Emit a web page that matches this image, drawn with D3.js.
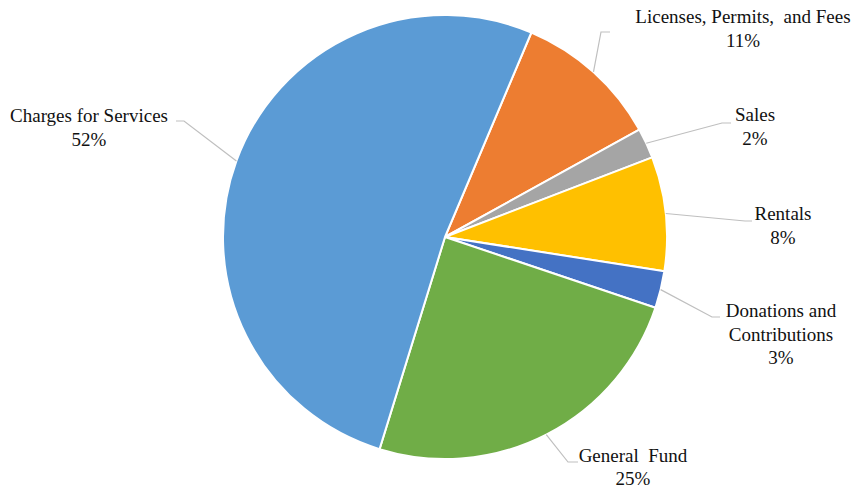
<!DOCTYPE html>
<html>
<head>
<meta charset="utf-8">
<script src="https://cdn.jsdelivr.net/npm/d3@7"></script>
<style>
  html, body { margin: 0; padding: 0; background: #fff; }
</style>
</head>
<body>
<svg id="chart" width="857" height="488"></svg>
<script>
// Revenue sources, clockwise from the first slice
const categories = ["Licenses, Permits,  and Fees", "Sales", "Rentals", "Donations and Contributions", "General  Fund", "Charges for Services"];
const shares = [10.6, 2.2, 8.3, 2.7, 24.6, 51.6];
const colors = ["#ED7D31", "#A5A5A5", "#FFC000", "#4472C4", "#70AD47", "#5B9BD5"];

// Label text lines per slice (the percentage line is added from the value)
const labelLines = [
  ["Licenses, Permits,  and Fees"],
  ["Sales"],
  ["Rentals"],
  ["Donations and", "Contributions"],
  ["General  Fund"],
  ["Charges for Services"]
];

// Layout: label centre / first baseline, and leader elbow + end points
const layout = {
  cx: 445, cy: 237, r: 222,
  startDeg: 22.9,
  lineHeight: 23.5,
  font: "'Liberation Serif', 'Times New Roman', Times, serif",
  labels: [
    { x: 743, y: 23,  elbow: [601, 32],  end: [610, 32] },
    { x: 755, y: 121, elbow: [722, 123], end: [731, 123] },
    { x: 783, y: 220, elbow: [745, 221], end: [752, 221] },
    { x: 781, y: 317, elbow: [712, 317], end: [720, 317] },
    { x: 633, y: 462, elbow: [568, 462], end: [578, 462] },
    { x: 89,  y: 122, elbow: [184, 121], end: [176, 121] }
  ]
};

const svg = d3.select("#chart");
const total = d3.sum(shares);
const fmt = d3.format(".0%");

const start = layout.startDeg * Math.PI / 180;
const pie = d3.pie().sort(null).value(d => d.value).startAngle(start).endAngle(start + 2 * Math.PI);
const arc = d3.arc().innerRadius(0).outerRadius(layout.r);

const data = categories.map((c, i) => ({ name: c, value: shares[i], color: colors[i], lines: labelLines[i], spot: layout.labels[i] }));
const arcs = pie(data);

const g = svg.append("g").attr("transform", `translate(${layout.cx},${layout.cy})`);

g.selectAll("path.slice")
  .data(arcs)
  .join("path")
  .attr("class", "slice")
  .attr("d", arc)
  .attr("fill", d => d.data.color)
  .attr("stroke", "#fff")
  .attr("stroke-width", 2)
  .attr("stroke-linejoin", "round");

// Leader lines from the outer edge at each slice's mid angle
svg.append("g").selectAll("polyline")
  .data(arcs)
  .join("polyline")
  .attr("points", d => {
    const a = (d.startAngle + d.endAngle) / 2;
    const px = layout.cx + layout.r * Math.sin(a);
    const py = layout.cy - layout.r * Math.cos(a);
    const s = d.data.spot;
    return [[px, py], s.elbow, s.end].map(p => p.join(",")).join(" ");
  })
  .attr("fill", "none")
  .attr("stroke", "#BFBFBF")
  .attr("stroke-width", 1.2);

// Category and percentage labels
const labels = svg.append("g").selectAll("text")
  .data(arcs)
  .join("text")
  .attr("font-family", layout.font)
  .attr("font-size", 19)
  .attr("fill", "#111")
  .attr("xml:space", "preserve")
  .style("white-space", "pre")
  .attr("text-anchor", "middle")
  .attr("x", d => d.data.spot.x)
  .attr("y", d => d.data.spot.y);

labels.each(function(d) {
  const t = d3.select(this);
  const lines = d.data.lines.concat([fmt(d.data.value / total)]);
  lines.forEach((ln, i) => {
    t.append("tspan")
      .attr("x", d.data.spot.x)
      .attr("y", d.data.spot.y + i * (i === lines.length - 1 && d.data.name.startsWith("General") ? 23 : layout.lineHeight))
      .text(ln);
  });
});
</script>
</body>
</html>
